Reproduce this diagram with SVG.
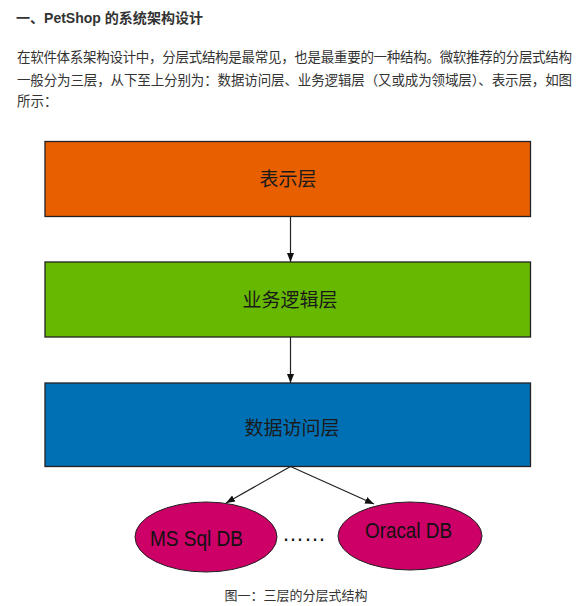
<svg xmlns="http://www.w3.org/2000/svg" width="587" height="606" viewBox="0 0 587 606">
<defs>
<style>
.t{font-family:"Liberation Sans","Noto Sans CJK SC",sans-serif;fill:#333}
.box{stroke:#222;stroke-width:1.3}
.lbl{font-family:"Noto Sans CJK SC",sans-serif;font-size:19px;fill:#1a1a1a;text-anchor:middle}
.db{font-family:"Liberation Sans",Arial,sans-serif;font-size:22px;fill:#111;text-anchor:middle}
.ln{stroke:#222;stroke-width:1.2;fill:none}
</style>
<marker id="ah" markerWidth="10" markerHeight="10" refX="9" refY="5" orient="auto" markerUnits="userSpaceOnUse">
<path d="M0,1.5 L9,5 L0,8.5 Z" fill="#111"/>
</marker>
</defs>
<rect width="587" height="606" fill="#fff"/>
<text class="t" x="16" y="23" font-size="14" font-weight="bold" textLength="187" lengthAdjust="spacingAndGlyphs">一、PetShop 的系统架构设计</text>
<text class="t" x="17" y="62" font-size="13.5" textLength="555" lengthAdjust="spacing">在软件体系架构设计中，分层式结构是最常见，也是最重要的一种结构。微软推荐的分层式结构</text>
<text class="t" x="17" y="85" font-size="13.5" textLength="555" lengthAdjust="spacing">一般分为三层，从下至上分别为：数据访问层、业务逻辑层（又或成为领域层）、表示层，如图</text>
<text class="t" x="17" y="106" font-size="13.5">所示：</text>

<g id="connectors">
<line class="ln" x1="290.5" y1="216" x2="290.5" y2="262" marker-end="url(#ah)"/>
<line class="ln" x1="290.5" y1="337" x2="290.5" y2="383" marker-end="url(#ah)"/>
<line class="ln" x1="290.5" y1="466.5" x2="226" y2="503" marker-end="url(#ah)"/>
<line class="ln" x1="290.5" y1="466.5" x2="374" y2="504" marker-end="url(#ah)"/>
</g>

<g id="presentation">
<rect class="box" x="45" y="141.5" width="485.5" height="75" fill="#E85F00"/>
<text class="lbl" x="288" y="186">表示层</text>
</g>
<g id="business">
<rect class="box" x="45" y="262" width="485.5" height="75" fill="#66B800"/>
<text class="lbl" x="290" y="307">业务逻辑层</text>
</g>
<g id="data">
<rect class="box" x="45" y="383" width="485.5" height="83.5" fill="#0070B5"/>
<text class="lbl" x="292" y="435">数据访问层</text>
</g>
<g id="mssql">
<ellipse cx="206" cy="537" rx="71" ry="35" fill="#CC0066" stroke="#222" stroke-width="1"/>
<text class="db" x="196.5" y="546" textLength="93" lengthAdjust="spacingAndGlyphs">MS Sql DB</text>
</g>
<g id="oracle">
<ellipse cx="410" cy="536" rx="72" ry="34" fill="#CC0066" stroke="#222" stroke-width="1"/>
<text class="db" x="408.5" y="538" textLength="87" lengthAdjust="spacingAndGlyphs">Oracal DB</text>
</g>
<text class="db" x="304" y="541" font-size="18">……</text>
<text class="t" x="296" y="600" font-size="13" text-anchor="middle">图一：三层的分层式结构</text>
</svg>
